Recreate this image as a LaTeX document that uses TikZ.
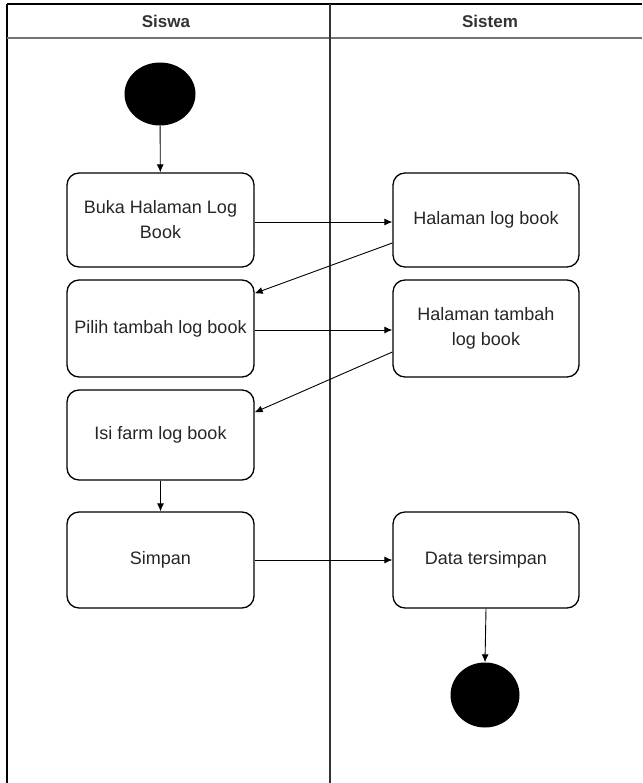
\documentclass[tikz,border=0pt]{standalone}
\usepackage{fontspec}
\setmainfont{Liberation Sans}
\usetikzlibrary{arrows.meta,shapes.geometric}
\begin{document}
\begin{tikzpicture}[x=1pt,y=-1pt,
  every node/.style={font=\fontsize{18}{25}\selectfont, text=black!85},
  act/.style={draw=black, line width=1.3pt, rounded corners=12pt, align=center, inner sep=2pt},
  lbox/.style={act, minimum width=187pt},
  rbox/.style={act, minimum width=186pt},
  dot/.style={ellipse, fill=black, draw=none, inner sep=0pt},
  flow/.style={draw=black, line width=0.9pt, -{Latex[length=8pt,width=7pt]}},
  lane/.style={font=\fontsize{17}{20}\selectfont\bfseries, text=black!80}
]
\useasboundingbox (0,0) rectangle (642,783);
\fill[white] (0,0) rectangle (642,783);
% frame
\draw[line width=2.2pt, black] (7,4) -- (642,4);
\draw[line width=2.2pt, black] (7,4) -- (7,783);
\draw[line width=2pt, black!55] (7,38) -- (642,38);
\draw[line width=1.3pt, black!80] (330,4) -- (330,783);
\node[lane] (siswa) at (166,21) {Siswa};
\node[lane] (sistem) at (490,21) {Sistem};
% nodes
\node[dot, minimum width=71pt, minimum height=63pt] (start) at (160,94) {};
\node[lbox, minimum height=94pt] (buka) at (160.5,220) {Buka Halaman Log\\Book};
\node[rbox, minimum height=94pt] (hlb) at (486,220) {Halaman log book};
\node[lbox, minimum height=97pt] (pilih) at (160.5,328.5) {Pilih tambah log book};
\node[rbox, minimum height=97pt] (hth) at (486,328.5) {Halaman tambah\\log book};
\node[lbox, minimum height=90pt] (isi) at (160.5,435) {Isi farm log book};
\node[lbox, minimum height=96pt] (simpan) at (160.5,560) {Simpan};
\node[rbox, minimum height=96pt] (data) at (486,560) {Data tersimpan};
\node[dot, minimum width=69pt, minimum height=65pt] (end) at (485,695) {};
% connectors
\draw[flow] (start) -- (buka);
\draw[flow] ([yshift=-2pt]buka.east) -- ([yshift=-2pt]hlb.west);
\draw[flow] ([yshift=-23pt]hlb.west) -- ([yshift=-14pt]pilih.north east);
\draw[flow] ([yshift=-1.5pt]pilih.east) -- ([yshift=-1.5pt]hth.west);
\draw[flow] ([yshift=-23.5pt]hth.west) -- ([yshift=-23pt]isi.north east);
\draw[flow] (isi) -- (simpan);
\draw[flow] (simpan) -- (data);
\draw[flow] (data.south) -- (end.north);
\end{tikzpicture}
\end{document}
